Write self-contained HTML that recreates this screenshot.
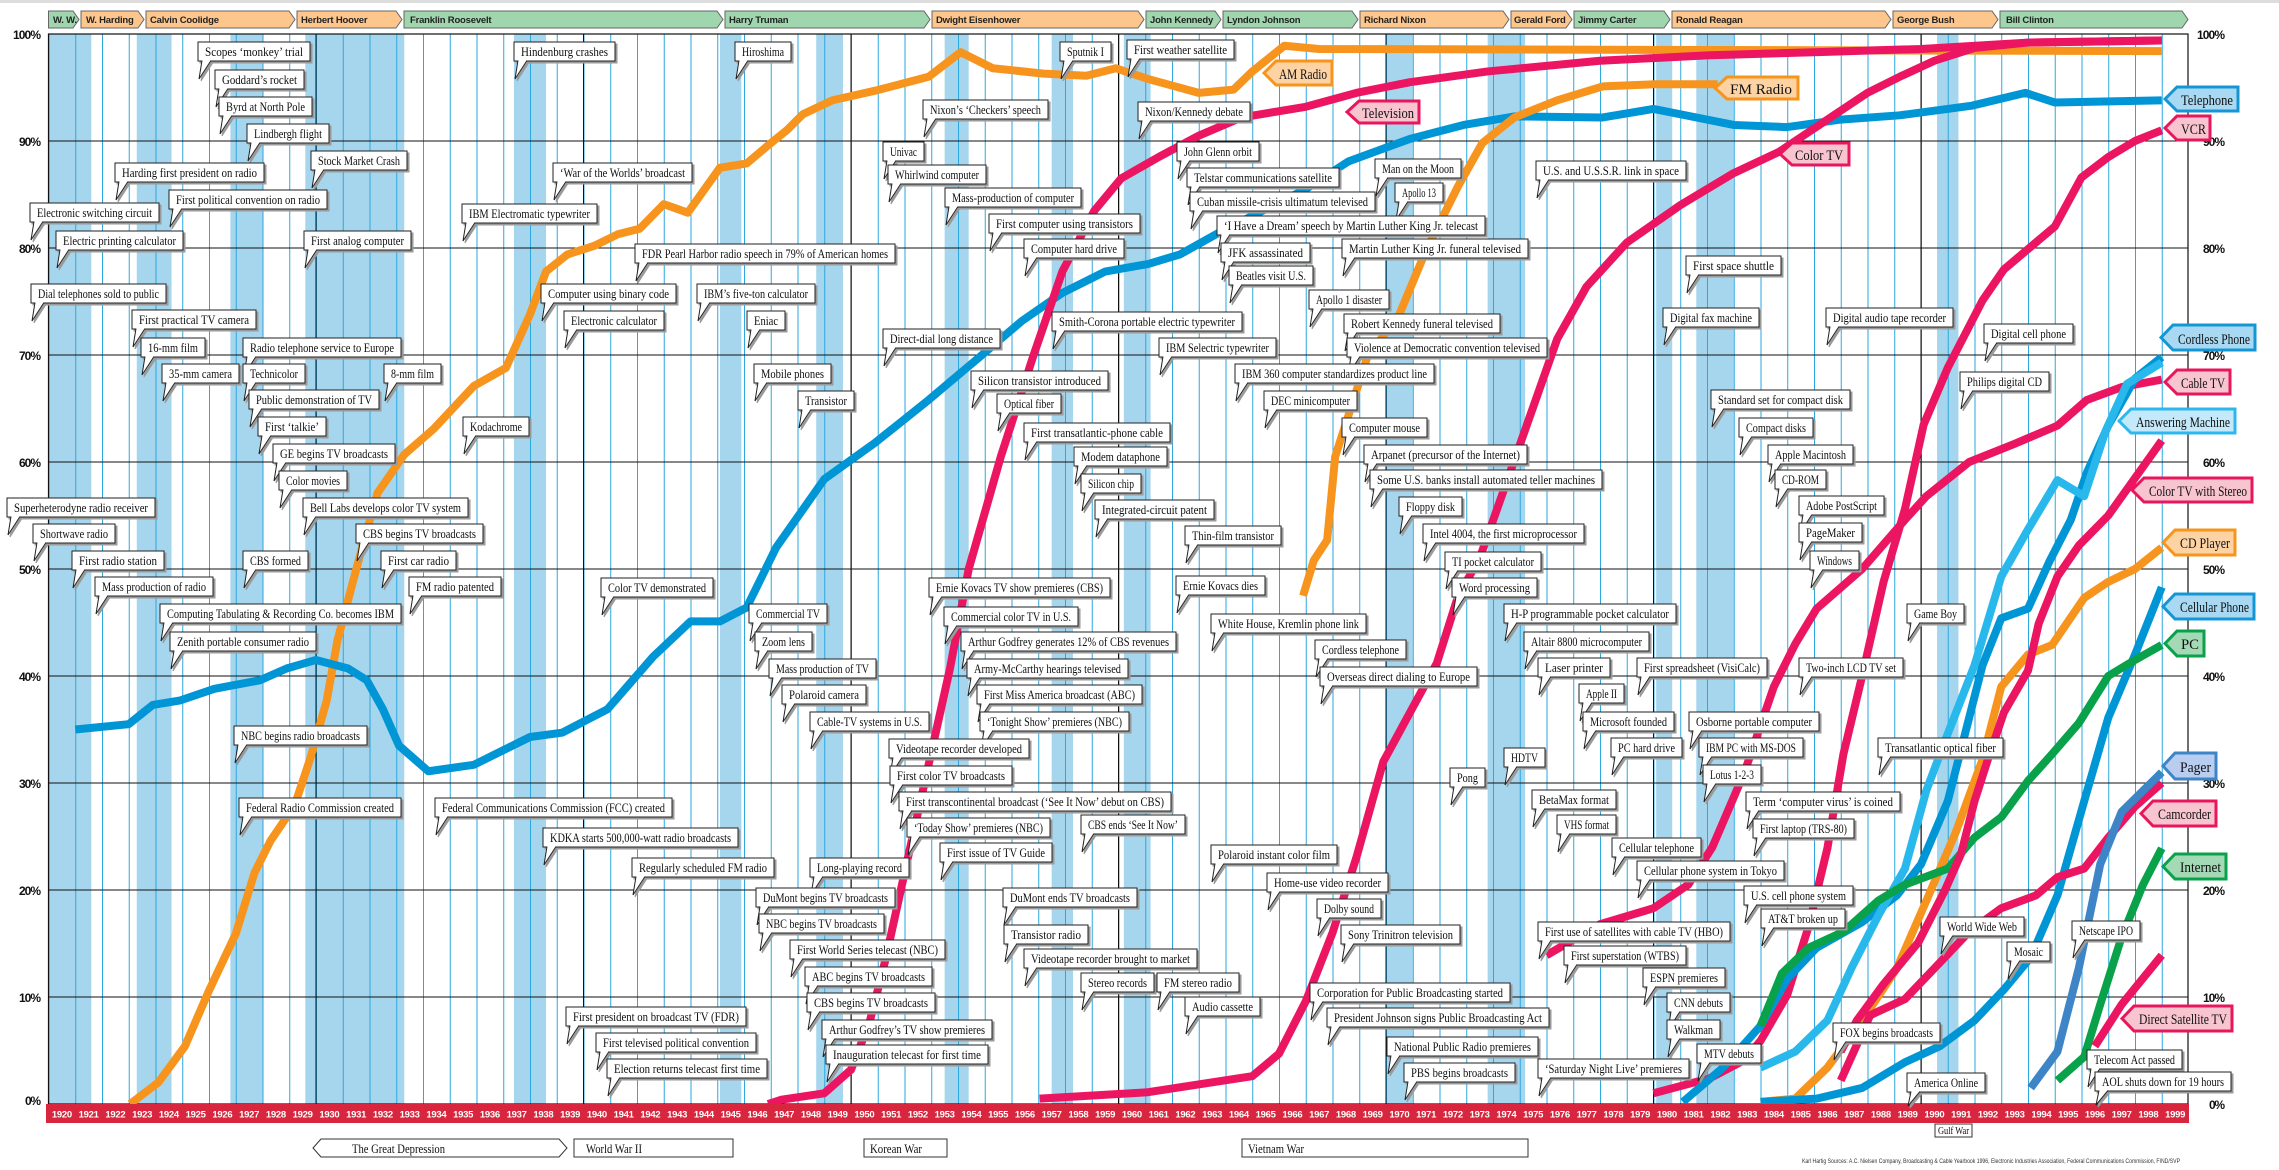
<!DOCTYPE html>
<html><head><meta charset="utf-8">
<style>
html,body{margin:0;padding:0;background:#fff;}
svg{display:block;}
.L rect{fill:#fff;stroke:#222;stroke-width:1}
.L path{fill:#fff;stroke:#222;stroke-width:1}
.L text{font-family:"Liberation Serif",serif;font-size:13px;fill:#111}
.pr text{font-family:"Liberation Sans",sans-serif;font-weight:bold;font-size:9.5px;fill:#222;letter-spacing:-0.2px}
.pr polygon{stroke:#666;stroke-width:1}
.g{fill:#9fd6ae}.o{fill:#fdc68c}
.pc{font-family:"Liberation Sans",sans-serif;font-weight:bold;font-size:12px;fill:#111}
.yr{font-family:"Liberation Sans",sans-serif;font-weight:bold;font-size:9.5px;fill:#fff;text-anchor:middle;letter-spacing:-0.3px}
.cv path{fill:none;stroke-width:8;stroke-linejoin:round;vector-effect:non-scaling-stroke}
.tg text{font-family:"Liberation Serif",serif;font-size:15px;fill:#111}
.tg polygon{stroke-width:3}
.tb{fill:#a9d9f2;stroke:#1496d4}.tl{fill:#c4e9fa;stroke:#2cb8ee}.tp{fill:#f8c4cf;stroke:#e8175d}.to{fill:#fdd3a4;stroke:#f7941d}.tgn{fill:#a3d9b5;stroke:#0aa14b}.tpg{fill:#b9cdf0;stroke:#3d85c6}
.w text{font-family:"Liberation Serif",serif;font-size:13px;fill:#111}
</style></head><body>
<svg width="2279" height="1170" viewBox="0 0 2279 1170" xmlns="http://www.w3.org/2000/svg">
<defs>
<pattern id="yl" x="48.5" y="0" width="26.75" height="1170" patternUnits="userSpaceOnUse"><rect x="0" y="0" width="1" height="1170" fill="#2aa7df"/></pattern>
<filter id="sh" x="-5%" y="-5%" width="110%" height="110%"><feDropShadow dx="2" dy="2" stdDeviation="0.3" flood-color="#9a9a9a"/></filter>
</defs>
<rect x="0" y="0" width="2279" height="3" fill="#ddd"/>
<!-- recession bands -->
<g transform="matrix(26.75 0 0 -10.7 48.5 1104)" fill="#a6d6ee">
<rect x="0" y="0" width="1.6" height="100"/>
<rect x="3.3" y="0" width="1.3" height="100"/>
<rect x="6.8" y="0" width="1.2" height="100"/>
<rect x="9.6" y="0" width="3.7" height="100"/>
<rect x="17.4" y="0" width="1.2" height="100"/>
<rect x="25.1" y="0" width="0.8" height="100"/>
<rect x="28.7" y="0" width="1.0" height="100"/>
<rect x="33.5" y="0" width="0.9" height="100"/>
<rect x="37.5" y="0" width="0.8" height="100"/>
<rect x="40.2" y="0" width="1.0" height="100"/>
<rect x="50.0" y="0" width="1.0" height="100"/>
<rect x="53.8" y="0" width="1.4" height="100"/>
<rect x="60.1" y="0" width="0.6" height="100"/>
<rect x="61.6" y="0" width="1.4" height="100"/>
<rect x="70.6" y="0" width="0.8" height="100"/>
</g>
<!-- year lines -->
<rect x="48.5" y="34" width="2114.5" height="1070" fill="url(#yl)"/>
<!-- decade lines -->
<g stroke="#111" stroke-width="1">
<line x1="316" y1="34" x2="316" y2="1104"/><line x1="583.5" y1="34" x2="583.5" y2="1104"/><line x1="851" y1="34" x2="851" y2="1104"/><line x1="1118.5" y1="34" x2="1118.5" y2="1104"/><line x1="1386" y1="34" x2="1386" y2="1104"/><line x1="1653.5" y1="34" x2="1653.5" y2="1104"/><line x1="1921" y1="34" x2="1921" y2="1104"/>
<line x1="48.5" y1="141" x2="2188" y2="141"/><line x1="48.5" y1="248" x2="2188" y2="248"/><line x1="48.5" y1="355" x2="2188" y2="355"/><line x1="48.5" y1="462" x2="2188" y2="462"/><line x1="48.5" y1="569" x2="2188" y2="569"/><line x1="48.5" y1="676" x2="2188" y2="676"/><line x1="48.5" y1="783" x2="2188" y2="783"/><line x1="48.5" y1="890" x2="2188" y2="890"/><line x1="48.5" y1="997" x2="2188" y2="997"/>
</g>
<rect x="48.5" y="34" width="2139.5" height="1070" fill="none" stroke="#111" stroke-width="1.2"/>
<!-- percent labels -->
<g class="pc" text-anchor="end">
<text x="41" y="39" textLength="28">100%</text><text x="41" y="146" textLength="22">90%</text><text x="41" y="253" textLength="22">80%</text><text x="41" y="360" textLength="22">70%</text><text x="41" y="467" textLength="22">60%</text><text x="41" y="574" textLength="22">50%</text><text x="41" y="681" textLength="22">40%</text><text x="41" y="788" textLength="22">30%</text><text x="41" y="895" textLength="22">20%</text><text x="41" y="1002" textLength="22">10%</text><text x="41" y="1105" textLength="16">0%</text>
<text x="2225" y="39" textLength="28">100%</text><text x="2225" y="146" textLength="22">90%</text><text x="2225" y="253" textLength="22">80%</text><text x="2225" y="360" textLength="22">70%</text><text x="2225" y="467" textLength="22">60%</text><text x="2225" y="574" textLength="22">50%</text><text x="2225" y="681" textLength="22">40%</text><text x="2225" y="788" textLength="22">30%</text><text x="2225" y="895" textLength="22">20%</text><text x="2225" y="1002" textLength="22">10%</text><text x="2225" y="1109" textLength="16">0%</text>
</g>
<!-- presidents -->
<g class="pr">
<polygon class="g" points="48.5,11 73,11 79,19.5 73,28 48.5,28"/><text x="53" y="23">W. W.</text>
<polygon class="o" points="81,11 138,11 144,19.5 138,28 81,28"/><text x="86" y="23">W. Harding</text>
<polygon class="o" points="146,11 289,11 295,19.5 289,28 146,28"/><text x="150" y="23">Calvin Coolidge</text>
<polygon class="o" points="297,11 396,11 402,19.5 396,28 297,28"/><text x="301" y="23">Herbert Hoover</text>
<polygon class="g" points="404,11 717,11 723,19.5 717,28 404,28"/><text x="410" y="23">Franklin Roosevelt</text>
<polygon class="g" points="725,11 924,11 930,19.5 924,28 725,28"/><text x="729" y="23">Harry Truman</text>
<polygon class="o" points="932,11 1138,11 1144,19.5 1138,28 932,28"/><text x="936" y="23">Dwight Eisenhower</text>
<polygon class="g" points="1146,11 1215,11 1221,19.5 1215,28 1146,28"/><text x="1150" y="23">John Kennedy</text>
<polygon class="g" points="1223,11 1352,11 1358,19.5 1352,28 1223,28"/><text x="1227" y="23">Lyndon Johnson</text>
<polygon class="o" points="1360,11 1503,11 1509,19.5 1503,28 1360,28"/><text x="1364" y="23">Richard Nixon</text>
<polygon class="o" points="1511,11 1566,11 1572,19.5 1566,28 1511,28"/><text x="1514" y="23">Gerald Ford</text>
<polygon class="g" points="1574,11 1664,11 1670,19.5 1664,28 1574,28"/><text x="1578" y="23">Jimmy Carter</text>
<polygon class="o" points="1672,11 1885,11 1891,19.5 1885,28 1672,28"/><text x="1676" y="23">Ronald Reagan</text>
<polygon class="o" points="1893,11 1992,11 1998,19.5 1992,28 1893,28"/><text x="1897" y="23">George Bush</text>
<polygon class="g" points="2000,11 2182,11 2188,19.5 2182,28 2000,28"/><text x="2006" y="23">Bill Clinton</text>
</g>
<!-- curves -->
<g class="cv" transform="matrix(26.75 0 0 -10.7 48.5 1104)">
<path stroke="#f7941d" d="M3.05,0 L4.1,2 5.1,5.4 6,10.6 7,15.9 7.7,21.6 8.3,24.6 9.2,27.9 9.8,32.4 10.4,37.7 10.8,43.3 11.4,49 11.8,52.7 12.3,57.1 13.3,60.7 14.4,63.1 15.9,67.1 17.1,68.8 18,73.8 18.6,77.8 19.4,79.4 20.4,80.2 21.3,81.3 22.1,81.8 23,84.1 23.9,83.3 25.1,87.5 26.1,87.9 27,89.8 27.6,91 28.2,92.5 29.3,93.8 30.9,94.7 32.9,96 34.1,98.3 35.3,96.8 37.2,96.3 38.8,96.1 39.9,96.8 41.1,95.8 43,94.5 44.3,94.8 45,96.5 46.2,98.9 47.5,98.6 79,98.4"/>
<path stroke="#0096d6" d="M1,35 L3,35.5 3.9,37.3 4.9,37.7 6.2,38.8 7.9,39.6 8.9,40.7 10,41.5 11.2,40.7 11.9,39.6 12.5,36.9 13.1,33.5 14.2,31.1 15.9,31.7 18,34.3 19.2,34.7 20.9,36.9 22.6,41.8 24,45.1 25.1,45.1 26.1,46.4 27.2,52 29,58.4 30.9,61.8 32.9,65.8 34.8,69.8 36.4,73.2 37.9,75.8 39.5,77.8 41.1,78.5 42.3,79.4 43.8,81.5 45.4,83.5 47,85.5 48.6,88.1 50.9,90.2 52.9,91.5 54.8,92.3 58.1,92.2 60,93 61,92.5 63,91.5 65,91.3 67,92 69.2,92.4 71.9,93.3 73.9,94.5 75,93.6 79,93.8"/>
<path stroke="#ec1561" d="M26.9,0 L27.4,0.4 29,1 30,3.2 30.7,7.7 31.3,13.6 32.1,22.7 32.9,31.7 33.7,40.7 34.4,50 35.6,60.5 36.8,69.8 37.9,77.8 39.1,83.5 40.1,86.5 41.5,88.5 43,90.5 44.6,92.2 47,93.2 48.9,94.5 50.9,95.5 53.8,96.5 58,97.5 62,98 66,98.3 70,98.6 74,99.2 79,99.4"/>
<path stroke="#f7941d" d="M46.9,47.5 L47.3,50.8 47.8,52.7 48.1,60.5 49.3,69.8 50.5,73.8 51.5,79.8 52.7,85.8 53.6,89.8 54.8,92.2 56.4,93.8 58.1,95.1 60,95.3 62.4,95.3"/>
<path stroke="#ec1561" d="M37.05,0.5 L41.1,1.1 45,2.6 46,4.7 47,9.6 48,16 48.9,23.1 49.9,32 50.9,36.6 51.9,41.2 52.7,47.5 53.5,51 55.2,63 56.4,71.5 57.5,76.4 59,80.5 61,84 63,87 64.7,89 66.5,92 68,94.5 69.2,96 70.5,97.5 72,98.7 74,99.2 79,99.4"/>
<path stroke="#ec1561" d="M56,13.9 L58,16.8 60,18.3 61.3,20.5 62.2,24 63.4,31 64.5,39 65.3,43 66.1,46.3 67.8,50 69.4,54.6 70.2,56.8 71.8,60 73.5,61.7 75.1,63.4 76.2,65.8 77.5,67 79,67.7"/>
<path stroke="#ec1561" d="M60,1 L62.1,2.4 63.4,4.1 64,5.9 65,10.2 65.8,16.6 66.5,23.9 67.1,32.7 67.8,40 68.6,48.8 69.4,55.6 70.1,63.5 71,68.8 72.3,75.1 73.1,78 75,82 76,86.6 77,88.5 78,90 79,91"/>
<path stroke="#0096d6" d="M61.1,0.2 L62.6,3.4 64,7.3 65,11.7 66.1,14.6 67.8,17 69.1,19.5 70,22.4 71,28.3 71.8,36.1 72.3,41 73,45.4 74,46.3 74.8,50.7 75.6,54.6 76.2,59 77,63.4 78,67.8 79,69.8"/>
<path stroke="#29b8ec" d="M64,3.4 L65.3,4.9 66.5,7.8 67.4,12.7 68.4,17.6 69.4,22 70.2,29.3 71,34.6 72,41 73,49.3 74,53.7 75.1,58.3 76.1,56.8 76.9,62.9 77.7,67.3 79,69.3"/>
<path stroke="#f7941d" d="M64,0.2 L65.3,0.5 66.5,3.4 67.8,7.8 69.1,12.7 70.2,19 71.3,25.4 72.3,32.2 73,39 74,42 74.9,42.9 76.1,47.3 77,48.8 78,50 79,52"/>
<path stroke="#0096d6" d="M64,0.2 L66.1,0.5 67.8,1.5 69.4,3.9 70.7,5.4 72,7.8 73.1,10.7 74.1,13.7 75.1,19.5 76.1,28.3 77,36.1 78,42 79,48.3"/>
<path stroke="#0aa14b" d="M64,7.3 L64.8,12.2 65.8,14.6 67.1,16.1 68.4,19 69.4,20.5 71,22 72,24.9 73,26.8 74,30.2 74.9,32.7 75.9,35.6 77,40 78,41.5 79,42.9"/>
<path stroke="#ec1561" d="M67,2.2 L68.1,8.3 69.4,9.8 70.7,13.2 71.8,16.1 73,18.3 74.3,19.5 75.1,21.2 76.1,22 77,24.9 78,27.8 79,30"/>
<path stroke="#ec1561" d="M67,4.9 L67.6,7.8 68.6,11.2 69.9,15.1 70.9,20 71.5,23.4 72,28.3 72.5,32.2 73.1,36.6 74,40.5 74.4,44.9 75.1,49.3 75.9,52.2 77,55 78,58.5 79,62"/>
<path stroke="#3d85c6" d="M74.1,1.5 L75.1,4.9 75.9,12.7 76.7,22.4 77.5,27.3 79,31"/>
<path stroke="#0aa14b" d="M75.1,2.2 L76.1,4.4 76.7,9.3 77.5,15.6 78.3,20.5 79,23.9"/>
<path stroke="#ec1561" d="M76.5,5.4 L77.5,9.3 79,13.9"/>
</g>
<!-- year bar -->
<rect x="46" y="1104" width="2143" height="19" fill="#d7263d"/>
<text class="yr" y="1117.5"><tspan x="61.9">1920</tspan><tspan x="88.65">1921</tspan><tspan x="115.4">1922</tspan><tspan x="142.15">1923</tspan><tspan x="168.9">1924</tspan><tspan x="195.65">1925</tspan><tspan x="222.4">1926</tspan><tspan x="249.15">1927</tspan><tspan x="275.9">1928</tspan><tspan x="302.65">1929</tspan><tspan x="329.4">1930</tspan><tspan x="356.15">1931</tspan><tspan x="382.9">1932</tspan><tspan x="409.65">1933</tspan><tspan x="436.4">1934</tspan><tspan x="463.15">1935</tspan><tspan x="489.9">1936</tspan><tspan x="516.65">1937</tspan><tspan x="543.4">1938</tspan><tspan x="570.15">1939</tspan><tspan x="596.9">1940</tspan><tspan x="623.65">1941</tspan><tspan x="650.4">1942</tspan><tspan x="677.15">1943</tspan><tspan x="703.9">1944</tspan><tspan x="730.65">1945</tspan><tspan x="757.4">1946</tspan><tspan x="784.15">1947</tspan><tspan x="810.9">1948</tspan><tspan x="837.65">1949</tspan><tspan x="864.4">1950</tspan><tspan x="891.15">1951</tspan><tspan x="917.9">1952</tspan><tspan x="944.65">1953</tspan><tspan x="971.4">1954</tspan><tspan x="998.15">1955</tspan><tspan x="1024.9">1956</tspan><tspan x="1051.65">1957</tspan><tspan x="1078.4">1958</tspan><tspan x="1105.15">1959</tspan><tspan x="1131.9">1960</tspan><tspan x="1158.65">1961</tspan><tspan x="1185.4">1962</tspan><tspan x="1212.15">1963</tspan><tspan x="1238.9">1964</tspan><tspan x="1265.65">1965</tspan><tspan x="1292.4">1966</tspan><tspan x="1319.15">1967</tspan><tspan x="1345.9">1968</tspan><tspan x="1372.65">1969</tspan><tspan x="1399.4">1970</tspan><tspan x="1426.15">1971</tspan><tspan x="1452.9">1972</tspan><tspan x="1479.65">1973</tspan><tspan x="1506.4">1974</tspan><tspan x="1533.15">1975</tspan><tspan x="1559.9">1976</tspan><tspan x="1586.65">1977</tspan><tspan x="1613.4">1978</tspan><tspan x="1640.15">1979</tspan><tspan x="1666.9">1980</tspan><tspan x="1693.65">1981</tspan><tspan x="1720.4">1982</tspan><tspan x="1747.15">1983</tspan><tspan x="1773.9">1984</tspan><tspan x="1800.65">1985</tspan><tspan x="1827.4">1986</tspan><tspan x="1854.15">1987</tspan><tspan x="1880.9">1988</tspan><tspan x="1907.65">1989</tspan><tspan x="1934.4">1990</tspan><tspan x="1961.15">1991</tspan><tspan x="1987.9">1992</tspan><tspan x="2014.65">1993</tspan><tspan x="2041.4">1994</tspan><tspan x="2068.15">1995</tspan><tspan x="2094.9">1996</tspan><tspan x="2121.65">1997</tspan><tspan x="2148.4">1998</tspan><tspan x="2175.15">1999</tspan></text>
<!-- labels -->
<g class="L" filter="url(#sh)">
<g transform="translate(198,42)"><rect width="112" height="19"/><path d="M4 18.5 L1 37 L13 18.5"/><text x="7" y="14" textLength="98" lengthAdjust="spacingAndGlyphs">Scopes ‘monkey’ trial</text></g>
<g transform="translate(215,70)"><rect width="89" height="19"/><path d="M4 18.5 L1 37 L13 18.5"/><text x="7" y="14" textLength="75" lengthAdjust="spacingAndGlyphs">Goddard’s rocket</text></g>
<g transform="translate(219,97)"><rect width="93" height="19"/><path d="M4 18.5 L1 37 L13 18.5"/><text x="7" y="14" textLength="79" lengthAdjust="spacingAndGlyphs">Byrd at North Pole</text></g>
<g transform="translate(247,124)"><rect width="82" height="19"/><path d="M4 18.5 L1 37 L13 18.5"/><text x="7" y="14" textLength="68" lengthAdjust="spacingAndGlyphs">Lindbergh flight</text></g>
<g transform="translate(311,151)"><rect width="96" height="19"/><path d="M4 18.5 L1 37 L13 18.5"/><text x="7" y="14" textLength="82" lengthAdjust="spacingAndGlyphs">Stock Market Crash</text></g>
<g transform="translate(115,163)"><rect width="149" height="19"/><path d="M4 18.5 L1 37 L13 18.5"/><text x="7" y="14" textLength="135" lengthAdjust="spacingAndGlyphs">Harding first president on radio</text></g>
<g transform="translate(169,190)"><rect width="158" height="19"/><path d="M4 18.5 L1 37 L13 18.5"/><text x="7" y="14" textLength="144" lengthAdjust="spacingAndGlyphs">First political convention on radio</text></g>
<g transform="translate(30,203)"><rect width="129" height="19"/><path d="M4 18.5 L1 37 L13 18.5"/><text x="7" y="14" textLength="115" lengthAdjust="spacingAndGlyphs">Electronic switching circuit</text></g>
<g transform="translate(56,231)"><rect width="127" height="19"/><path d="M4 18.5 L1 37 L13 18.5"/><text x="7" y="14" textLength="113" lengthAdjust="spacingAndGlyphs">Electric printing calculator</text></g>
<g transform="translate(304,231)"><rect width="107" height="19"/><path d="M4 18.5 L1 37 L13 18.5"/><text x="7" y="14" textLength="93" lengthAdjust="spacingAndGlyphs">First analog computer</text></g>
<g transform="translate(462,204)"><rect width="135" height="19"/><path d="M4 18.5 L1 37 L13 18.5"/><text x="7" y="14" textLength="121" lengthAdjust="spacingAndGlyphs">IBM Electromatic typewriter</text></g>
<g transform="translate(553,163)"><rect width="139" height="19"/><path d="M4 18.5 L1 37 L13 18.5"/><text x="7" y="14" textLength="125" lengthAdjust="spacingAndGlyphs">‘War of the Worlds’ broadcast</text></g>
<g transform="translate(514,42)"><rect width="101" height="19"/><path d="M4 18.5 L1 37 L13 18.5"/><text x="7" y="14" textLength="87" lengthAdjust="spacingAndGlyphs">Hindenburg crashes</text></g>
<g transform="translate(735,42)"><rect width="56" height="19"/><path d="M4 18.5 L1 37 L13 18.5"/><text x="7" y="14" textLength="42" lengthAdjust="spacingAndGlyphs">Hiroshima</text></g>
<g transform="translate(635,244)"><rect width="260" height="19"/><path d="M4 18.5 L1 37 L13 18.5"/><text x="7" y="14" textLength="246" lengthAdjust="spacingAndGlyphs">FDR Pearl Harbor radio speech in 79% of American homes</text></g>
<g transform="translate(31,284)"><rect width="135" height="19"/><path d="M4 18.5 L1 37 L13 18.5"/><text x="7" y="14" textLength="121" lengthAdjust="spacingAndGlyphs">Dial telephones sold to public</text></g>
<g transform="translate(132,310)"><rect width="124" height="19"/><path d="M4 18.5 L1 37 L13 18.5"/><text x="7" y="14" textLength="110" lengthAdjust="spacingAndGlyphs">First practical TV camera</text></g>
<g transform="translate(141,338)"><rect width="64" height="19"/><path d="M4 18.5 L1 37 L13 18.5"/><text x="7" y="14" textLength="50" lengthAdjust="spacingAndGlyphs">16-mm film</text></g>
<g transform="translate(162,364)"><rect width="77" height="19"/><path d="M4 18.5 L1 37 L13 18.5"/><text x="7" y="14" textLength="63" lengthAdjust="spacingAndGlyphs">35-mm camera</text></g>
<g transform="translate(243,338)"><rect width="158" height="19"/><path d="M4 18.5 L1 37 L13 18.5"/><text x="7" y="14" textLength="144" lengthAdjust="spacingAndGlyphs">Radio telephone service to Europe</text></g>
<g transform="translate(243,364)"><rect width="62" height="19"/><path d="M4 18.5 L1 37 L13 18.5"/><text x="7" y="14" textLength="48" lengthAdjust="spacingAndGlyphs">Technicolor</text></g>
<g transform="translate(384,364)"><rect width="57" height="19"/><path d="M4 18.5 L1 37 L13 18.5"/><text x="7" y="14" textLength="43" lengthAdjust="spacingAndGlyphs">8-mm film</text></g>
<g transform="translate(249,390)"><rect width="130" height="19"/><path d="M4 18.5 L1 37 L13 18.5"/><text x="7" y="14" textLength="116" lengthAdjust="spacingAndGlyphs">Public demonstration of TV</text></g>
<g transform="translate(258,417)"><rect width="68" height="19"/><path d="M4 18.5 L1 37 L13 18.5"/><text x="7" y="14" textLength="54" lengthAdjust="spacingAndGlyphs">First ‘talkie’</text></g>
<g transform="translate(273,444)"><rect width="122" height="19"/><path d="M4 18.5 L1 37 L13 18.5"/><text x="7" y="14" textLength="108" lengthAdjust="spacingAndGlyphs">GE begins TV broadcasts</text></g>
<g transform="translate(279,471)"><rect width="68" height="19"/><path d="M4 18.5 L1 37 L13 18.5"/><text x="7" y="14" textLength="54" lengthAdjust="spacingAndGlyphs">Color movies</text></g>
<g transform="translate(303,498)"><rect width="165" height="19"/><path d="M4 18.5 L1 37 L13 18.5"/><text x="7" y="14" textLength="151" lengthAdjust="spacingAndGlyphs">Bell Labs develops color TV system</text></g>
<g transform="translate(356,524)"><rect width="127" height="19"/><path d="M4 18.5 L1 37 L13 18.5"/><text x="7" y="14" textLength="113" lengthAdjust="spacingAndGlyphs">CBS begins TV broadcasts</text></g>
<g transform="translate(7,498)"><rect width="148" height="19"/><path d="M4 18.5 L1 37 L13 18.5"/><text x="7" y="14" textLength="134" lengthAdjust="spacingAndGlyphs">Superheterodyne radio receiver</text></g>
<g transform="translate(33,524)"><rect width="82" height="19"/><path d="M4 18.5 L1 37 L13 18.5"/><text x="7" y="14" textLength="68" lengthAdjust="spacingAndGlyphs">Shortwave radio</text></g>
<g transform="translate(541,284)"><rect width="135" height="19"/><path d="M4 18.5 L1 37 L13 18.5"/><text x="7" y="14" textLength="121" lengthAdjust="spacingAndGlyphs">Computer using binary code</text></g>
<g transform="translate(564,311)"><rect width="100" height="19"/><path d="M4 18.5 L1 37 L13 18.5"/><text x="7" y="14" textLength="86" lengthAdjust="spacingAndGlyphs">Electronic calculator</text></g>
<g transform="translate(697,284)"><rect width="118" height="19"/><path d="M4 18.5 L1 37 L13 18.5"/><text x="7" y="14" textLength="104" lengthAdjust="spacingAndGlyphs">IBM’s five-ton calculator</text></g>
<g transform="translate(747,311)"><rect width="38" height="19"/><path d="M4 18.5 L1 37 L13 18.5"/><text x="7" y="14" textLength="24" lengthAdjust="spacingAndGlyphs">Eniac</text></g>
<g transform="translate(463,417)"><rect width="66" height="19"/><path d="M4 18.5 L1 37 L13 18.5"/><text x="7" y="14" textLength="52" lengthAdjust="spacingAndGlyphs">Kodachrome</text></g>
<g transform="translate(754,364)"><rect width="77" height="19"/><path d="M4 18.5 L1 37 L13 18.5"/><text x="7" y="14" textLength="63" lengthAdjust="spacingAndGlyphs">Mobile phones</text></g>
<g transform="translate(72,551)"><rect width="92" height="19"/><path d="M4 18.5 L1 37 L13 18.5"/><text x="7" y="14" textLength="78" lengthAdjust="spacingAndGlyphs">First radio station</text></g>
<g transform="translate(243,551)"><rect width="65" height="19"/><path d="M4 18.5 L1 37 L13 18.5"/><text x="7" y="14" textLength="51" lengthAdjust="spacingAndGlyphs">CBS formed</text></g>
<g transform="translate(381,551)"><rect width="75" height="19"/><path d="M4 18.5 L1 37 L13 18.5"/><text x="7" y="14" textLength="61" lengthAdjust="spacingAndGlyphs">First car radio</text></g>
<g transform="translate(95,577)"><rect width="118" height="19"/><path d="M4 18.5 L1 37 L13 18.5"/><text x="7" y="14" textLength="104" lengthAdjust="spacingAndGlyphs">Mass production of radio</text></g>
<g transform="translate(409,577)"><rect width="92" height="19"/><path d="M4 18.5 L1 37 L13 18.5"/><text x="7" y="14" textLength="78" lengthAdjust="spacingAndGlyphs">FM radio patented</text></g>
<g transform="translate(160,604)"><rect width="241" height="19"/><path d="M4 18.5 L1 37 L13 18.5"/><text x="7" y="14" textLength="227" lengthAdjust="spacingAndGlyphs">Computing Tabulating &amp; Recording Co. becomes IBM</text></g>
<g transform="translate(170,632)"><rect width="146" height="19"/><path d="M4 18.5 L1 37 L13 18.5"/><text x="7" y="14" textLength="132" lengthAdjust="spacingAndGlyphs">Zenith portable consumer radio</text></g>
<g transform="translate(601,578)"><rect width="112" height="19"/><path d="M4 18.5 L1 37 L13 18.5"/><text x="7" y="14" textLength="98" lengthAdjust="spacingAndGlyphs">Color TV demonstrated</text></g>
<g transform="translate(234,726)"><rect width="133" height="19"/><path d="M4 18.5 L1 37 L13 18.5"/><text x="7" y="14" textLength="119" lengthAdjust="spacingAndGlyphs">NBC begins radio broadcasts</text></g>
<g transform="translate(239,798)"><rect width="162" height="19"/><path d="M4 18.5 L1 37 L13 18.5"/><text x="7" y="14" textLength="148" lengthAdjust="spacingAndGlyphs">Federal Radio Commission created</text></g>
<g transform="translate(435,798)"><rect width="237" height="19"/><path d="M4 18.5 L1 37 L13 18.5"/><text x="7" y="14" textLength="223" lengthAdjust="spacingAndGlyphs">Federal Communications Commission (FCC) created</text></g>
<g transform="translate(543,828)"><rect width="195" height="19"/><path d="M4 18.5 L1 37 L13 18.5"/><text x="7" y="14" textLength="181" lengthAdjust="spacingAndGlyphs">KDKA starts 500,000-watt radio broadcasts</text></g>
<g transform="translate(632,858)"><rect width="142" height="19"/><path d="M4 18.5 L1 37 L13 18.5"/><text x="7" y="14" textLength="128" lengthAdjust="spacingAndGlyphs">Regularly scheduled FM radio</text></g>
<g transform="translate(566,1007)"><rect width="180" height="19"/><path d="M4 18.5 L1 37 L13 18.5"/><text x="7" y="14" textLength="166" lengthAdjust="spacingAndGlyphs">First president on broadcast TV (FDR)</text></g>
<g transform="translate(596,1033)"><rect width="160" height="19"/><path d="M4 18.5 L1 37 L13 18.5"/><text x="7" y="14" textLength="146" lengthAdjust="spacingAndGlyphs">First televised political convention</text></g>
<g transform="translate(607,1059)"><rect width="160" height="19"/><path d="M4 18.5 L1 37 L13 18.5"/><text x="7" y="14" textLength="146" lengthAdjust="spacingAndGlyphs">Election returns telecast first time</text></g>
<g transform="translate(1060,42)"><rect width="51" height="19"/><path d="M4 18.5 L1 37 L13 18.5"/><text x="7" y="14" textLength="37" lengthAdjust="spacingAndGlyphs">Sputnik I</text></g>
<g transform="translate(1127,40)"><rect width="107" height="19"/><path d="M4 18.5 L1 37 L13 18.5"/><text x="7" y="14" textLength="93" lengthAdjust="spacingAndGlyphs">First weather satellite</text></g>
<g transform="translate(923,100)"><rect width="125" height="19"/><path d="M4 18.5 L1 37 L13 18.5"/><text x="7" y="14" textLength="111" lengthAdjust="spacingAndGlyphs">Nixon’s ‘Checkers’ speech</text></g>
<g transform="translate(1138,102)"><rect width="112" height="19"/><path d="M4 18.5 L1 37 L13 18.5"/><text x="7" y="14" textLength="98" lengthAdjust="spacingAndGlyphs">Nixon/Kennedy debate</text></g>
<g transform="translate(883,142)"><rect width="41" height="19"/><path d="M4 18.5 L1 37 L13 18.5"/><text x="7" y="14" textLength="27" lengthAdjust="spacingAndGlyphs">Univac</text></g>
<g transform="translate(888,165)"><rect width="98" height="19"/><path d="M4 18.5 L1 37 L13 18.5"/><text x="7" y="14" textLength="84" lengthAdjust="spacingAndGlyphs">Whirlwind computer</text></g>
<g transform="translate(945,188)"><rect width="136" height="19"/><path d="M4 18.5 L1 37 L13 18.5"/><text x="7" y="14" textLength="122" lengthAdjust="spacingAndGlyphs">Mass-production of computer</text></g>
<g transform="translate(989,214)"><rect width="151" height="19"/><path d="M4 18.5 L1 37 L13 18.5"/><text x="7" y="14" textLength="137" lengthAdjust="spacingAndGlyphs">First computer using transistors</text></g>
<g transform="translate(1024,239)"><rect width="100" height="19"/><path d="M4 18.5 L1 37 L13 18.5"/><text x="7" y="14" textLength="86" lengthAdjust="spacingAndGlyphs">Computer hard drive</text></g>
<g transform="translate(1177,142)"><rect width="82" height="19"/><path d="M4 18.5 L1 37 L13 18.5"/><text x="7" y="14" textLength="68" lengthAdjust="spacingAndGlyphs">John Glenn orbit</text></g>
<g transform="translate(1187,168)"><rect width="152" height="19"/><path d="M4 18.5 L1 37 L13 18.5"/><text x="7" y="14" textLength="138" lengthAdjust="spacingAndGlyphs">Telstar communications satellite</text></g>
<g transform="translate(1190,192)"><rect width="185" height="19"/><path d="M4 18.5 L1 37 L13 18.5"/><text x="7" y="14" textLength="171" lengthAdjust="spacingAndGlyphs">Cuban missile-crisis ultimatum televised</text></g>
<g transform="translate(1375,159)"><rect width="86" height="19"/><path d="M4 18.5 L1 37 L13 18.5"/><text x="7" y="14" textLength="72" lengthAdjust="spacingAndGlyphs">Man on the Moon</text></g>
<g transform="translate(1395,183)"><rect width="48" height="19"/><path d="M4 18.5 L1 37 L13 18.5"/><text x="7" y="14" textLength="34" lengthAdjust="spacingAndGlyphs">Apollo 13</text></g>
<g transform="translate(1536,161)"><rect width="150" height="19"/><path d="M4 18.5 L1 37 L13 18.5"/><text x="7" y="14" textLength="136" lengthAdjust="spacingAndGlyphs">U.S. and U.S.S.R. link in space</text></g>
<g transform="translate(1217,216)"><rect width="268" height="19"/><path d="M4 18.5 L1 37 L13 18.5"/><text x="7" y="14" textLength="254" lengthAdjust="spacingAndGlyphs">‘I Have a Dream’ speech by Martin Luther King Jr. telecast</text></g>
<g transform="translate(1221,243)"><rect width="89" height="19"/><path d="M4 18.5 L1 37 L13 18.5"/><text x="7" y="14" textLength="75" lengthAdjust="spacingAndGlyphs">JFK assassinated</text></g>
<g transform="translate(1342,239)"><rect width="186" height="19"/><path d="M4 18.5 L1 37 L13 18.5"/><text x="7" y="14" textLength="172" lengthAdjust="spacingAndGlyphs">Martin Luther King Jr. funeral televised</text></g>
<g transform="translate(1229,266)"><rect width="84" height="19"/><path d="M4 18.5 L1 37 L13 18.5"/><text x="7" y="14" textLength="70" lengthAdjust="spacingAndGlyphs">Beatles visit U.S.</text></g>
<g transform="translate(1309,290)"><rect width="80" height="19"/><path d="M4 18.5 L1 37 L13 18.5"/><text x="7" y="14" textLength="66" lengthAdjust="spacingAndGlyphs">Apollo 1 disaster</text></g>
<g transform="translate(1344,314)"><rect width="156" height="19"/><path d="M4 18.5 L1 37 L13 18.5"/><text x="7" y="14" textLength="142" lengthAdjust="spacingAndGlyphs">Robert Kennedy funeral televised</text></g>
<g transform="translate(1347,338)"><rect width="200" height="19"/><path d="M4 18.5 L1 37 L13 18.5"/><text x="7" y="14" textLength="186" lengthAdjust="spacingAndGlyphs">Violence at Democratic convention televised</text></g>
<g transform="translate(1052,312)"><rect width="190" height="19"/><path d="M4 18.5 L1 37 L13 18.5"/><text x="7" y="14" textLength="176" lengthAdjust="spacingAndGlyphs">Smith-Corona portable electric typewriter</text></g>
<g transform="translate(1159,338)"><rect width="117" height="19"/><path d="M4 18.5 L1 37 L13 18.5"/><text x="7" y="14" textLength="103" lengthAdjust="spacingAndGlyphs">IBM Selectric typewriter</text></g>
<g transform="translate(883,329)"><rect width="117" height="19"/><path d="M4 18.5 L1 37 L13 18.5"/><text x="7" y="14" textLength="103" lengthAdjust="spacingAndGlyphs">Direct-dial long distance</text></g>
<g transform="translate(1235,364)"><rect width="199" height="19"/><path d="M4 18.5 L1 37 L13 18.5"/><text x="7" y="14" textLength="185" lengthAdjust="spacingAndGlyphs">IBM 360 computer standardizes product line</text></g>
<g transform="translate(1264,391)"><rect width="93" height="19"/><path d="M4 18.5 L1 37 L13 18.5"/><text x="7" y="14" textLength="79" lengthAdjust="spacingAndGlyphs">DEC minicomputer</text></g>
<g transform="translate(971,371)"><rect width="137" height="19"/><path d="M4 18.5 L1 37 L13 18.5"/><text x="7" y="14" textLength="123" lengthAdjust="spacingAndGlyphs">Silicon transistor introduced</text></g>
<g transform="translate(997,394)"><rect width="64" height="19"/><path d="M4 18.5 L1 37 L13 18.5"/><text x="7" y="14" textLength="50" lengthAdjust="spacingAndGlyphs">Optical fiber</text></g>
<g transform="translate(798,391)"><rect width="56" height="19"/><path d="M4 18.5 L1 37 L13 18.5"/><text x="7" y="14" textLength="42" lengthAdjust="spacingAndGlyphs">Transistor</text></g>
<g transform="translate(1024,423)"><rect width="146" height="19"/><path d="M4 18.5 L1 37 L13 18.5"/><text x="7" y="14" textLength="132" lengthAdjust="spacingAndGlyphs">First transatlantic-phone cable</text></g>
<g transform="translate(1074,447)"><rect width="93" height="19"/><path d="M4 18.5 L1 37 L13 18.5"/><text x="7" y="14" textLength="79" lengthAdjust="spacingAndGlyphs">Modem dataphone</text></g>
<g transform="translate(1081,474)"><rect width="60" height="19"/><path d="M4 18.5 L1 37 L13 18.5"/><text x="7" y="14" textLength="46" lengthAdjust="spacingAndGlyphs">Silicon chip</text></g>
<g transform="translate(1095,500)"><rect width="119" height="19"/><path d="M4 18.5 L1 37 L13 18.5"/><text x="7" y="14" textLength="105" lengthAdjust="spacingAndGlyphs">Integrated-circuit patent</text></g>
<g transform="translate(1185,526)"><rect width="96" height="19"/><path d="M4 18.5 L1 37 L13 18.5"/><text x="7" y="14" textLength="82" lengthAdjust="spacingAndGlyphs">Thin-film transistor</text></g>
<g transform="translate(1342,418)"><rect width="85" height="19"/><path d="M4 18.5 L1 37 L13 18.5"/><text x="7" y="14" textLength="71" lengthAdjust="spacingAndGlyphs">Computer mouse</text></g>
<g transform="translate(1364,445)"><rect width="163" height="19"/><path d="M4 18.5 L1 37 L13 18.5"/><text x="7" y="14" textLength="149" lengthAdjust="spacingAndGlyphs">Arpanet (precursor of the Internet)</text></g>
<g transform="translate(1370,470)"><rect width="232" height="19"/><path d="M4 18.5 L1 37 L13 18.5"/><text x="7" y="14" textLength="218" lengthAdjust="spacingAndGlyphs">Some U.S. banks install automated teller machines</text></g>
<g transform="translate(1399,497)"><rect width="63" height="19"/><path d="M4 18.5 L1 37 L13 18.5"/><text x="7" y="14" textLength="49" lengthAdjust="spacingAndGlyphs">Floppy disk</text></g>
<g transform="translate(1423,524)"><rect width="161" height="19"/><path d="M4 18.5 L1 37 L13 18.5"/><text x="7" y="14" textLength="147" lengthAdjust="spacingAndGlyphs">Intel 4004, the first microprocessor</text></g>
<g transform="translate(1445,552)"><rect width="96" height="19"/><path d="M4 18.5 L1 37 L13 18.5"/><text x="7" y="14" textLength="82" lengthAdjust="spacingAndGlyphs">TI pocket calculator</text></g>
<g transform="translate(1452,578)"><rect width="85" height="19"/><path d="M4 18.5 L1 37 L13 18.5"/><text x="7" y="14" textLength="71" lengthAdjust="spacingAndGlyphs">Word processing</text></g>
<g transform="translate(929,578)"><rect width="181" height="19"/><path d="M4 18.5 L1 37 L13 18.5"/><text x="7" y="14" textLength="167" lengthAdjust="spacingAndGlyphs">Ernie Kovacs TV show premieres (CBS)</text></g>
<g transform="translate(1176,576)"><rect width="89" height="19"/><path d="M4 18.5 L1 37 L13 18.5"/><text x="7" y="14" textLength="75" lengthAdjust="spacingAndGlyphs">Ernie Kovacs dies</text></g>
<g transform="translate(1211,614)"><rect width="155" height="19"/><path d="M4 18.5 L1 37 L13 18.5"/><text x="7" y="14" textLength="141" lengthAdjust="spacingAndGlyphs">White House, Kremlin phone link</text></g>
<g transform="translate(749,604)"><rect width="78" height="19"/><path d="M4 18.5 L1 37 L13 18.5"/><text x="7" y="14" textLength="64" lengthAdjust="spacingAndGlyphs">Commercial TV</text></g>
<g transform="translate(944,607)"><rect width="134" height="19"/><path d="M4 18.5 L1 37 L13 18.5"/><text x="7" y="14" textLength="120" lengthAdjust="spacingAndGlyphs">Commercial color TV in U.S.</text></g>
<g transform="translate(961,632)"><rect width="215" height="19"/><path d="M4 18.5 L1 37 L13 18.5"/><text x="7" y="14" textLength="201" lengthAdjust="spacingAndGlyphs">Arthur Godfrey generates 12% of CBS revenues</text></g>
<g transform="translate(755,632)"><rect width="57" height="19"/><path d="M4 18.5 L1 37 L13 18.5"/><text x="7" y="14" textLength="43" lengthAdjust="spacingAndGlyphs">Zoom lens</text></g>
<g transform="translate(769,659)"><rect width="107" height="19"/><path d="M4 18.5 L1 37 L13 18.5"/><text x="7" y="14" textLength="93" lengthAdjust="spacingAndGlyphs">Mass production of TV</text></g>
<g transform="translate(782,685)"><rect width="84" height="19"/><path d="M4 18.5 L1 37 L13 18.5"/><text x="7" y="14" textLength="70" lengthAdjust="spacingAndGlyphs">Polaroid camera</text></g>
<g transform="translate(967,659)"><rect width="161" height="19"/><path d="M4 18.5 L1 37 L13 18.5"/><text x="7" y="14" textLength="147" lengthAdjust="spacingAndGlyphs">Army-McCarthy hearings televised</text></g>
<g transform="translate(977,685)"><rect width="165" height="19"/><path d="M4 18.5 L1 37 L13 18.5"/><text x="7" y="14" textLength="151" lengthAdjust="spacingAndGlyphs">First Miss America broadcast (ABC)</text></g>
<g transform="translate(980,712)"><rect width="149" height="19"/><path d="M4 18.5 L1 37 L13 18.5"/><text x="7" y="14" textLength="135" lengthAdjust="spacingAndGlyphs">‘Tonight Show’ premieres (NBC)</text></g>
<g transform="translate(810,712)"><rect width="119" height="19"/><path d="M4 18.5 L1 37 L13 18.5"/><text x="7" y="14" textLength="105" lengthAdjust="spacingAndGlyphs">Cable-TV systems in U.S.</text></g>
<g transform="translate(889,739)"><rect width="140" height="19"/><path d="M4 18.5 L1 37 L13 18.5"/><text x="7" y="14" textLength="126" lengthAdjust="spacingAndGlyphs">Videotape recorder developed</text></g>
<g transform="translate(890,766)"><rect width="122" height="19"/><path d="M4 18.5 L1 37 L13 18.5"/><text x="7" y="14" textLength="108" lengthAdjust="spacingAndGlyphs">First color TV broadcasts</text></g>
<g transform="translate(899,792)"><rect width="272" height="19"/><path d="M4 18.5 L1 37 L13 18.5"/><text x="7" y="14" textLength="258" lengthAdjust="spacingAndGlyphs">First transcontinental broadcast (‘See It Now’ debut on CBS)</text></g>
<g transform="translate(907,818)"><rect width="143" height="19"/><path d="M4 18.5 L1 37 L13 18.5"/><text x="7" y="14" textLength="129" lengthAdjust="spacingAndGlyphs">‘Today Show’ premieres (NBC)</text></g>
<g transform="translate(1081,815)"><rect width="104" height="19"/><path d="M4 18.5 L1 37 L13 18.5"/><text x="7" y="14" textLength="90" lengthAdjust="spacingAndGlyphs">CBS ends ‘See It Now’</text></g>
<g transform="translate(940,843)"><rect width="112" height="19"/><path d="M4 18.5 L1 37 L13 18.5"/><text x="7" y="14" textLength="98" lengthAdjust="spacingAndGlyphs">First issue of TV Guide</text></g>
<g transform="translate(810,858)"><rect width="99" height="19"/><path d="M4 18.5 L1 37 L13 18.5"/><text x="7" y="14" textLength="85" lengthAdjust="spacingAndGlyphs">Long-playing record</text></g>
<g transform="translate(756,888)"><rect width="139" height="19"/><path d="M4 18.5 L1 37 L13 18.5"/><text x="7" y="14" textLength="125" lengthAdjust="spacingAndGlyphs">DuMont begins TV broadcasts</text></g>
<g transform="translate(759,914)"><rect width="125" height="19"/><path d="M4 18.5 L1 37 L13 18.5"/><text x="7" y="14" textLength="111" lengthAdjust="spacingAndGlyphs">NBC begins TV broadcasts</text></g>
<g transform="translate(1003,888)"><rect width="134" height="19"/><path d="M4 18.5 L1 37 L13 18.5"/><text x="7" y="14" textLength="120" lengthAdjust="spacingAndGlyphs">DuMont ends TV broadcasts</text></g>
<g transform="translate(1004,925)"><rect width="84" height="19"/><path d="M4 18.5 L1 37 L13 18.5"/><text x="7" y="14" textLength="70" lengthAdjust="spacingAndGlyphs">Transistor radio</text></g>
<g transform="translate(1024,949)"><rect width="173" height="19"/><path d="M4 18.5 L1 37 L13 18.5"/><text x="7" y="14" textLength="159" lengthAdjust="spacingAndGlyphs">Videotape recorder brought to market</text></g>
<g transform="translate(1081,973)"><rect width="73" height="19"/><path d="M4 18.5 L1 37 L13 18.5"/><text x="7" y="14" textLength="59" lengthAdjust="spacingAndGlyphs">Stereo records</text></g>
<g transform="translate(1157,973)"><rect width="82" height="19"/><path d="M4 18.5 L1 37 L13 18.5"/><text x="7" y="14" textLength="68" lengthAdjust="spacingAndGlyphs">FM stereo radio</text></g>
<g transform="translate(1185,997)"><rect width="75" height="19"/><path d="M4 18.5 L1 37 L13 18.5"/><text x="7" y="14" textLength="61" lengthAdjust="spacingAndGlyphs">Audio cassette</text></g>
<g transform="translate(790,940)"><rect width="155" height="19"/><path d="M4 18.5 L1 37 L13 18.5"/><text x="7" y="14" textLength="141" lengthAdjust="spacingAndGlyphs">First World Series telecast (NBC)</text></g>
<g transform="translate(805,967)"><rect width="127" height="19"/><path d="M4 18.5 L1 37 L13 18.5"/><text x="7" y="14" textLength="113" lengthAdjust="spacingAndGlyphs">ABC begins TV broadcasts</text></g>
<g transform="translate(807,993)"><rect width="128" height="19"/><path d="M4 18.5 L1 37 L13 18.5"/><text x="7" y="14" textLength="114" lengthAdjust="spacingAndGlyphs">CBS begins TV broadcasts</text></g>
<g transform="translate(822,1020)"><rect width="170" height="19"/><path d="M4 18.5 L1 37 L13 18.5"/><text x="7" y="14" textLength="156" lengthAdjust="spacingAndGlyphs">Arthur Godfrey’s TV show premieres</text></g>
<g transform="translate(826,1045)"><rect width="162" height="19"/><path d="M4 18.5 L1 37 L13 18.5"/><text x="7" y="14" textLength="148" lengthAdjust="spacingAndGlyphs">Inauguration telecast for first time</text></g>
<g transform="translate(1315,640)"><rect width="91" height="19"/><path d="M4 18.5 L1 37 L13 18.5"/><text x="7" y="14" textLength="77" lengthAdjust="spacingAndGlyphs">Cordless telephone</text></g>
<g transform="translate(1320,667)"><rect width="157" height="19"/><path d="M4 18.5 L1 37 L13 18.5"/><text x="7" y="14" textLength="143" lengthAdjust="spacingAndGlyphs">Overseas direct dialing to Europe</text></g>
<g transform="translate(1211,845)"><rect width="126" height="19"/><path d="M4 18.5 L1 37 L13 18.5"/><text x="7" y="14" textLength="112" lengthAdjust="spacingAndGlyphs">Polaroid instant color film</text></g>
<g transform="translate(1267,873)"><rect width="121" height="19"/><path d="M4 18.5 L1 37 L13 18.5"/><text x="7" y="14" textLength="107" lengthAdjust="spacingAndGlyphs">Home-use video recorder</text></g>
<g transform="translate(1317,899)"><rect width="64" height="19"/><path d="M4 18.5 L1 37 L13 18.5"/><text x="7" y="14" textLength="50" lengthAdjust="spacingAndGlyphs">Dolby sound</text></g>
<g transform="translate(1341,925)"><rect width="119" height="19"/><path d="M4 18.5 L1 37 L13 18.5"/><text x="7" y="14" textLength="105" lengthAdjust="spacingAndGlyphs">Sony Trinitron television</text></g>
<g transform="translate(1310,983)"><rect width="200" height="19"/><path d="M4 18.5 L1 37 L13 18.5"/><text x="7" y="14" textLength="186" lengthAdjust="spacingAndGlyphs">Corporation for Public Broadcasting started</text></g>
<g transform="translate(1327,1008)"><rect width="222" height="19"/><path d="M4 18.5 L1 37 L13 18.5"/><text x="7" y="14" textLength="208" lengthAdjust="spacingAndGlyphs">President Johnson signs Public Broadcasting Act</text></g>
<g transform="translate(1387,1037)"><rect width="151" height="19"/><path d="M4 18.5 L1 37 L13 18.5"/><text x="7" y="14" textLength="137" lengthAdjust="spacingAndGlyphs">National Public Radio premieres</text></g>
<g transform="translate(1404,1063)"><rect width="111" height="19"/><path d="M4 18.5 L1 37 L13 18.5"/><text x="7" y="14" textLength="97" lengthAdjust="spacingAndGlyphs">PBS begins broadcasts</text></g>
<g transform="translate(1450,768)"><rect width="35" height="19"/><path d="M4 18.5 L1 37 L13 18.5"/><text x="7" y="14" textLength="21" lengthAdjust="spacingAndGlyphs">Pong</text></g>
<g transform="translate(1504,748)"><rect width="41" height="19"/><path d="M4 18.5 L1 37 L13 18.5"/><text x="7" y="14" textLength="27" lengthAdjust="spacingAndGlyphs">HDTV</text></g>
<g transform="translate(1686,256)"><rect width="95" height="19"/><path d="M4 18.5 L1 37 L13 18.5"/><text x="7" y="14" textLength="81" lengthAdjust="spacingAndGlyphs">First space shuttle</text></g>
<g transform="translate(1663,308)"><rect width="96" height="19"/><path d="M4 18.5 L1 37 L13 18.5"/><text x="7" y="14" textLength="82" lengthAdjust="spacingAndGlyphs">Digital fax machine</text></g>
<g transform="translate(1826,308)"><rect width="127" height="19"/><path d="M4 18.5 L1 37 L13 18.5"/><text x="7" y="14" textLength="113" lengthAdjust="spacingAndGlyphs">Digital audio tape recorder</text></g>
<g transform="translate(1984,324)"><rect width="89" height="19"/><path d="M4 18.5 L1 37 L13 18.5"/><text x="7" y="14" textLength="75" lengthAdjust="spacingAndGlyphs">Digital cell phone</text></g>
<g transform="translate(1711,390)"><rect width="139" height="19"/><path d="M4 18.5 L1 37 L13 18.5"/><text x="7" y="14" textLength="125" lengthAdjust="spacingAndGlyphs">Standard set for compact disk</text></g>
<g transform="translate(1960,372)"><rect width="89" height="19"/><path d="M4 18.5 L1 37 L13 18.5"/><text x="7" y="14" textLength="75" lengthAdjust="spacingAndGlyphs">Philips digital CD</text></g>
<g transform="translate(1739,418)"><rect width="74" height="19"/><path d="M4 18.5 L1 37 L13 18.5"/><text x="7" y="14" textLength="60" lengthAdjust="spacingAndGlyphs">Compact disks</text></g>
<g transform="translate(1768,445)"><rect width="85" height="19"/><path d="M4 18.5 L1 37 L13 18.5"/><text x="7" y="14" textLength="71" lengthAdjust="spacingAndGlyphs">Apple Macintosh</text></g>
<g transform="translate(1775,470)"><rect width="51" height="19"/><path d="M4 18.5 L1 37 L13 18.5"/><text x="7" y="14" textLength="37" lengthAdjust="spacingAndGlyphs">CD-ROM</text></g>
<g transform="translate(1799,496)"><rect width="85" height="19"/><path d="M4 18.5 L1 37 L13 18.5"/><text x="7" y="14" textLength="71" lengthAdjust="spacingAndGlyphs">Adobe PostScript</text></g>
<g transform="translate(1799,523)"><rect width="63" height="19"/><path d="M4 18.5 L1 37 L13 18.5"/><text x="7" y="14" textLength="49" lengthAdjust="spacingAndGlyphs">PageMaker</text></g>
<g transform="translate(1810,551)"><rect width="49" height="19"/><path d="M4 18.5 L1 37 L13 18.5"/><text x="7" y="14" textLength="35" lengthAdjust="spacingAndGlyphs">Windows</text></g>
<g transform="translate(1907,604)"><rect width="57" height="19"/><path d="M4 18.5 L1 37 L13 18.5"/><text x="7" y="14" textLength="43" lengthAdjust="spacingAndGlyphs">Game Boy</text></g>
<g transform="translate(1504,604)"><rect width="172" height="19"/><path d="M4 18.5 L1 37 L13 18.5"/><text x="7" y="14" textLength="158" lengthAdjust="spacingAndGlyphs">H-P programmable pocket calculator</text></g>
<g transform="translate(1524,632)"><rect width="125" height="19"/><path d="M4 18.5 L1 37 L13 18.5"/><text x="7" y="14" textLength="111" lengthAdjust="spacingAndGlyphs">Altair 8800 microcomputer</text></g>
<g transform="translate(1538,658)"><rect width="72" height="19"/><path d="M4 18.5 L1 37 L13 18.5"/><text x="7" y="14" textLength="58" lengthAdjust="spacingAndGlyphs">Laser printer</text></g>
<g transform="translate(1579,684)"><rect width="45" height="19"/><path d="M4 18.5 L1 37 L13 18.5"/><text x="7" y="14" textLength="31" lengthAdjust="spacingAndGlyphs">Apple II</text></g>
<g transform="translate(1583,712)"><rect width="91" height="19"/><path d="M4 18.5 L1 37 L13 18.5"/><text x="7" y="14" textLength="77" lengthAdjust="spacingAndGlyphs">Microsoft founded</text></g>
<g transform="translate(1637,658)"><rect width="130" height="19"/><path d="M4 18.5 L1 37 L13 18.5"/><text x="7" y="14" textLength="116" lengthAdjust="spacingAndGlyphs">First spreadsheet (VisiCalc)</text></g>
<g transform="translate(1799,658)"><rect width="104" height="19"/><path d="M4 18.5 L1 37 L13 18.5"/><text x="7" y="14" textLength="90" lengthAdjust="spacingAndGlyphs">Two-inch LCD TV set</text></g>
<g transform="translate(1611,738)"><rect width="71" height="19"/><path d="M4 18.5 L1 37 L13 18.5"/><text x="7" y="14" textLength="57" lengthAdjust="spacingAndGlyphs">PC hard drive</text></g>
<g transform="translate(1689,712)"><rect width="130" height="19"/><path d="M4 18.5 L1 37 L13 18.5"/><text x="7" y="14" textLength="116" lengthAdjust="spacingAndGlyphs">Osborne portable computer</text></g>
<g transform="translate(1699,738)"><rect width="104" height="19"/><path d="M4 18.5 L1 37 L13 18.5"/><text x="7" y="14" textLength="90" lengthAdjust="spacingAndGlyphs">IBM PC with MS-DOS</text></g>
<g transform="translate(1878,738)"><rect width="125" height="19"/><path d="M4 18.5 L1 37 L13 18.5"/><text x="7" y="14" textLength="111" lengthAdjust="spacingAndGlyphs">Transatlantic optical fiber</text></g>
<g transform="translate(1703,765)"><rect width="58" height="19"/><path d="M4 18.5 L1 37 L13 18.5"/><text x="7" y="14" textLength="44" lengthAdjust="spacingAndGlyphs">Lotus 1-2-3</text></g>
<g transform="translate(1532,790)"><rect width="84" height="19"/><path d="M4 18.5 L1 37 L13 18.5"/><text x="7" y="14" textLength="70" lengthAdjust="spacingAndGlyphs">BetaMax format</text></g>
<g transform="translate(1557,815)"><rect width="59" height="19"/><path d="M4 18.5 L1 37 L13 18.5"/><text x="7" y="14" textLength="45" lengthAdjust="spacingAndGlyphs">VHS format</text></g>
<g transform="translate(1746,792)"><rect width="154" height="19"/><path d="M4 18.5 L1 37 L13 18.5"/><text x="7" y="14" textLength="140" lengthAdjust="spacingAndGlyphs">Term ‘computer virus’ is coined</text></g>
<g transform="translate(1753,819)"><rect width="101" height="19"/><path d="M4 18.5 L1 37 L13 18.5"/><text x="7" y="14" textLength="87" lengthAdjust="spacingAndGlyphs">First laptop (TRS-80)</text></g>
<g transform="translate(1612,838)"><rect width="89" height="19"/><path d="M4 18.5 L1 37 L13 18.5"/><text x="7" y="14" textLength="75" lengthAdjust="spacingAndGlyphs">Cellular telephone</text></g>
<g transform="translate(1637,861)"><rect width="147" height="19"/><path d="M4 18.5 L1 37 L13 18.5"/><text x="7" y="14" textLength="133" lengthAdjust="spacingAndGlyphs">Cellular phone system in Tokyo</text></g>
<g transform="translate(1744,886)"><rect width="109" height="19"/><path d="M4 18.5 L1 37 L13 18.5"/><text x="7" y="14" textLength="95" lengthAdjust="spacingAndGlyphs">U.S. cell phone system</text></g>
<g transform="translate(1761,909)"><rect width="84" height="19"/><path d="M4 18.5 L1 37 L13 18.5"/><text x="7" y="14" textLength="70" lengthAdjust="spacingAndGlyphs">AT&amp;T broken up</text></g>
<g transform="translate(1940,917)"><rect width="84" height="19"/><path d="M4 18.5 L1 37 L13 18.5"/><text x="7" y="14" textLength="70" lengthAdjust="spacingAndGlyphs">World Wide Web</text></g>
<g transform="translate(2007,942)"><rect width="43" height="19"/><path d="M4 18.5 L1 37 L13 18.5"/><text x="7" y="14" textLength="29" lengthAdjust="spacingAndGlyphs">Mosaic</text></g>
<g transform="translate(2072,921)"><rect width="68" height="19"/><path d="M4 18.5 L1 37 L13 18.5"/><text x="7" y="14" textLength="54" lengthAdjust="spacingAndGlyphs">Netscape IPO</text></g>
<g transform="translate(1538,922)"><rect width="192" height="19"/><path d="M4 18.5 L1 37 L13 18.5"/><text x="7" y="14" textLength="178" lengthAdjust="spacingAndGlyphs">First use of satellites with cable TV (HBO)</text></g>
<g transform="translate(1564,946)"><rect width="122" height="19"/><path d="M4 18.5 L1 37 L13 18.5"/><text x="7" y="14" textLength="108" lengthAdjust="spacingAndGlyphs">First superstation (WTBS)</text></g>
<g transform="translate(1643,968)"><rect width="82" height="19"/><path d="M4 18.5 L1 37 L13 18.5"/><text x="7" y="14" textLength="68" lengthAdjust="spacingAndGlyphs">ESPN premieres</text></g>
<g transform="translate(1667,993)"><rect width="63" height="19"/><path d="M4 18.5 L1 37 L13 18.5"/><text x="7" y="14" textLength="49" lengthAdjust="spacingAndGlyphs">CNN debuts</text></g>
<g transform="translate(1667,1020)"><rect width="53" height="19"/><path d="M4 18.5 L1 37 L13 18.5"/><text x="7" y="14" textLength="39" lengthAdjust="spacingAndGlyphs">Walkman</text></g>
<g transform="translate(1697,1044)"><rect width="64" height="19"/><path d="M4 18.5 L1 37 L13 18.5"/><text x="7" y="14" textLength="50" lengthAdjust="spacingAndGlyphs">MTV debuts</text></g>
<g transform="translate(1538,1059)"><rect width="151" height="19"/><path d="M4 18.5 L1 37 L13 18.5"/><text x="7" y="14" textLength="137" lengthAdjust="spacingAndGlyphs">‘Saturday Night Live’ premieres</text></g>
<g transform="translate(1833,1023)"><rect width="107" height="19"/><path d="M4 18.5 L1 37 L13 18.5"/><text x="7" y="14" textLength="93" lengthAdjust="spacingAndGlyphs">FOX begins broadcasts</text></g>
<g transform="translate(1907,1073)"><rect width="78" height="19"/><path d="M4 18.5 L1 33 L13 18.5"/><text x="7" y="14" textLength="64" lengthAdjust="spacingAndGlyphs">America Online</text></g>
<g transform="translate(2087,1050)"><rect width="95" height="19"/><path d="M4 18.5 L1 37 L13 18.5"/><text x="7" y="14" textLength="81" lengthAdjust="spacingAndGlyphs">Telecom Act passed</text></g>
<g transform="translate(2095,1072)"><rect width="136" height="19"/><path d="M4 18.5 L1 33 L13 18.5"/><text x="7" y="14" textLength="122" lengthAdjust="spacingAndGlyphs">AOL shuts down for 19 hours</text></g>
</g>
<!-- tags -->
<g class="tg">
<polygon class="to" points="1264,73 1276,61 1332,61 1332,85 1276,85"/><text x="1279" y="79" textLength="48" lengthAdjust="spacingAndGlyphs">AM Radio</text>
<polygon class="tp" points="1347,112 1359,101 1419,101 1419,123 1359,123"/><text x="1362" y="118" textLength="52" lengthAdjust="spacingAndGlyphs">Television</text>
<polygon class="to" points="1715,88 1727,77 1798,77 1798,99 1727,99"/><text x="1730" y="94" textLength="62" lengthAdjust="spacingAndGlyphs">FM Radio</text>
<polygon class="tp" points="1780,154 1792,143 1849,143 1849,165 1792,165"/><text x="1795" y="160" textLength="48" lengthAdjust="spacingAndGlyphs">Color TV</text>
<polygon class="tb" points="2165,99 2177,87 2238,87 2238,111 2177,111"/><text x="2181" y="105" textLength="52" lengthAdjust="spacingAndGlyphs">Telephone</text>
<polygon class="tp" points="2165,128 2177,116 2210,116 2210,140 2177,140"/><text x="2181" y="134" textLength="25" lengthAdjust="spacingAndGlyphs">VCR</text>
<polygon class="tb" points="2161,337.5 2173,325 2255,325 2255,350 2173,350"/><text x="2178" y="344" textLength="72" lengthAdjust="spacingAndGlyphs">Cordless Phone</text>
<polygon class="tp" points="2165,382 2177,370 2230,370 2230,394 2177,394"/><text x="2181" y="388" textLength="44" lengthAdjust="spacingAndGlyphs">Cable TV</text>
<polygon class="tl" points="2119,421 2131,409 2235,409 2235,433 2131,433"/><text x="2136" y="427" textLength="94" lengthAdjust="spacingAndGlyphs">Answering Machine</text>
<polygon class="tp" points="2132,490 2144,478 2252,478 2252,502 2144,502"/><text x="2149" y="496" textLength="98" lengthAdjust="spacingAndGlyphs">Color TV with Stereo</text>
<polygon class="to" points="2163,542.5 2175,530 2235,530 2235,555 2175,555"/><text x="2180" y="548" textLength="50" lengthAdjust="spacingAndGlyphs">CD Player</text>
<polygon class="tb" points="2163,606.5 2175,594 2254,594 2254,619 2175,619"/><text x="2180" y="612" textLength="69" lengthAdjust="spacingAndGlyphs">Cellular Phone</text>
<polygon class="tgn" points="2165,643.5 2177,631 2204,631 2204,656 2177,656"/><text x="2181" y="649" textLength="18" lengthAdjust="spacingAndGlyphs">PC</text>
<polygon class="tpg" points="2163,766 2175,753 2216,753 2216,779 2175,779"/><text x="2180" y="772" textLength="31" lengthAdjust="spacingAndGlyphs">Pager</text>
<polygon class="tp" points="2141,813.5 2153,801 2216,801 2216,826 2153,826"/><text x="2158" y="819" textLength="53" lengthAdjust="spacingAndGlyphs">Camcorder</text>
<polygon class="tgn" points="2163,866.5 2175,854 2226,854 2226,879 2175,879"/><text x="2180" y="872" textLength="41" lengthAdjust="spacingAndGlyphs">Internet</text>
<polygon class="tp" points="2122,1018.5 2134,1006 2232,1006 2232,1031 2134,1031"/><text x="2139" y="1024" textLength="88" lengthAdjust="spacingAndGlyphs">Direct Satellite TV</text>
</g>
<!-- wars -->
<g class="w" fill="#fff" stroke="#333" stroke-width="1">
<polygon points="313,1148 321,1139 559,1139 567,1148 559,1157 321,1157"/>
<rect x="574" y="1139" width="159" height="18"/>
<rect x="864" y="1139" width="83" height="18"/>
<rect x="1242" y="1139" width="286" height="18"/>
<rect x="1935" y="1124" width="37" height="13"/>
</g>
<g class="w">
<text x="352" y="1153" textLength="93" lengthAdjust="spacingAndGlyphs">The Great Depression</text>
<text x="586" y="1153" textLength="56" lengthAdjust="spacingAndGlyphs">World War II</text>
<text x="870" y="1153" textLength="52" lengthAdjust="spacingAndGlyphs">Korean War</text>
<text x="1248" y="1153" textLength="56" lengthAdjust="spacingAndGlyphs">Vietnam War</text>
<text x="1938" y="1134" style="font-size:10px" textLength="31" lengthAdjust="spacingAndGlyphs">Gulf War</text>
</g>
<text x="1802" y="1163" style="font-family:'Liberation Sans',sans-serif;font-size:6.5px;fill:#333" textLength="378" lengthAdjust="spacingAndGlyphs">Karl Hartig    Sources: A.C. Nielsen Company, Broadcasting &amp; Cable Yearbook 1996, Electronic Industries Association, Federal Communications Commission, FIND/SVP</text>
</svg>
</body></html>
